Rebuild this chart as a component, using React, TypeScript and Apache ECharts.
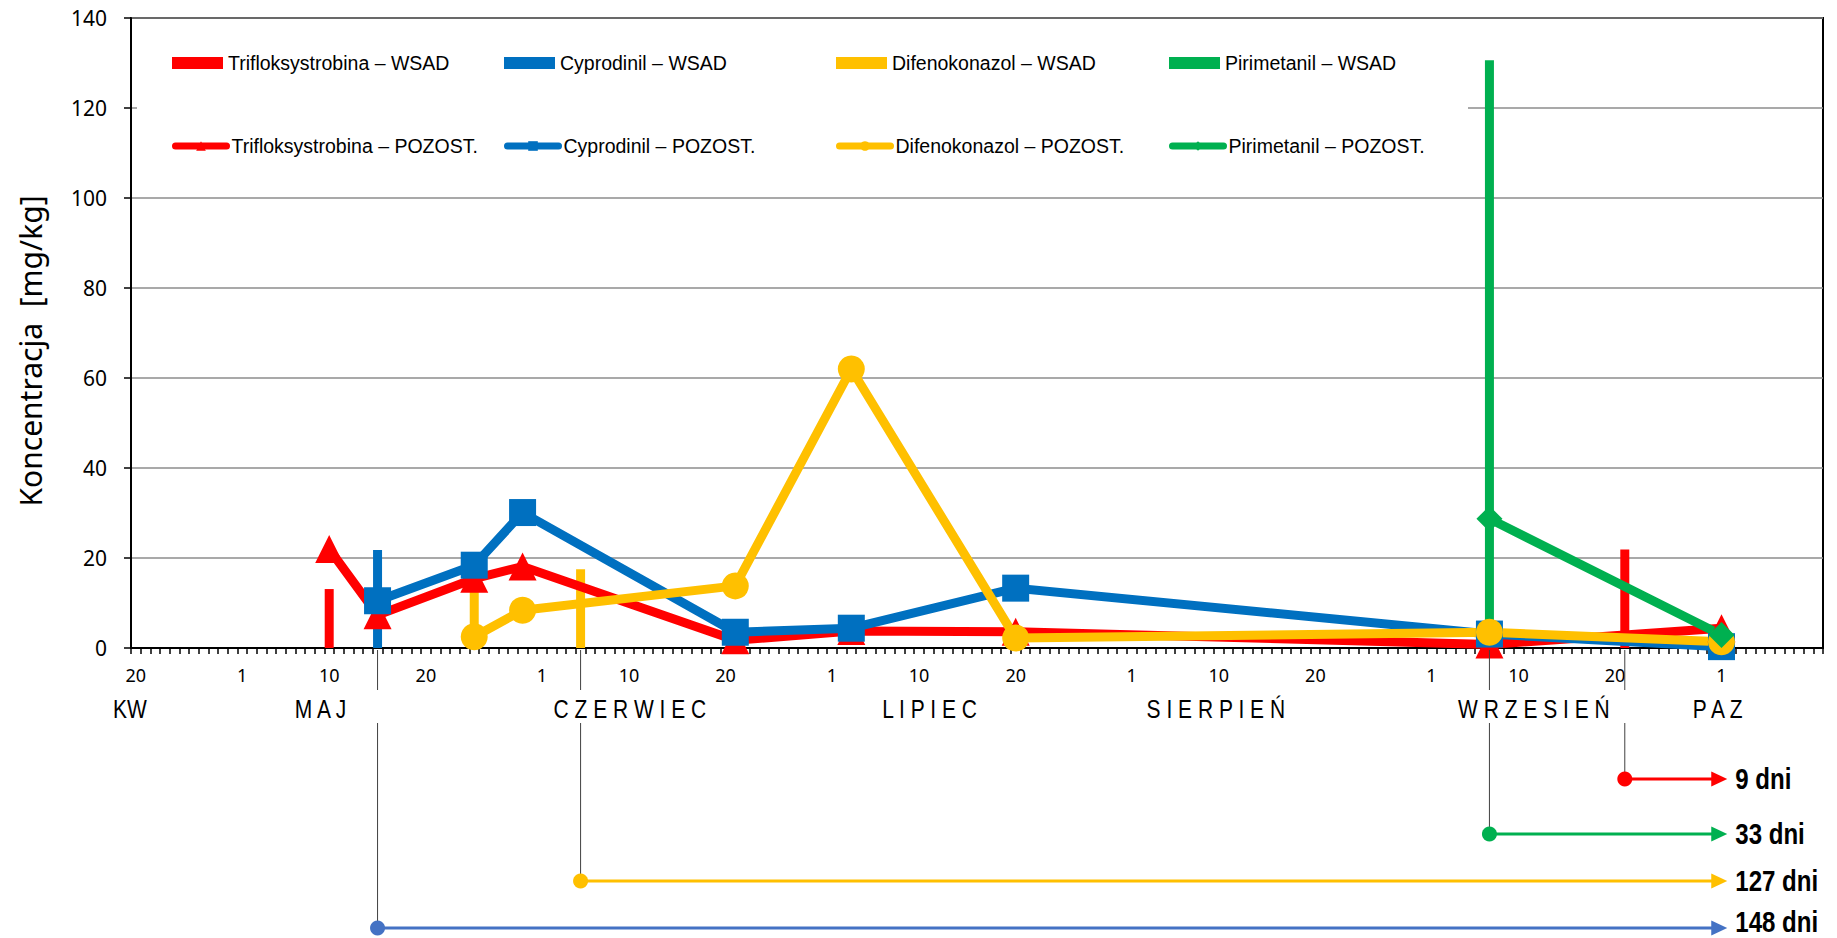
import React, { useEffect, useRef } from 'react';
import * as echarts from 'echarts';

// ---------- axis definition ----------
const AXIS_START = '04-20';
const AXIS_END = '10-11';
const LAST_DAY_LABEL = '10-01';
const DAY_TICK_LABELS = [1, 10, 20];
const MONTH_NAMES = ['KW', 'M A J', 'C Z E R W I E C', 'L I P I E C', 'S I E R P I E Ń', 'W R Z E S I E Ń', 'P A Z'];
const MONTH_NAME_DAYS = [109.4, 129.1, 161.1, 192.1, 221.7, 254.6, 273.6];
const Y_TITLE = 'Koncentracja  [mg/kg]';

// ---------- residues (POZOST.) ----------
const SAMPLE_DATES = ['05-10', '05-15', '05-25', '05-30', '06-21', '07-03', '07-20', '09-07', '10-01'];
const TRIFLO_POZOST = [22.0, 7.3, 15.4, 18.1, 1.7, 3.8, 3.6, 0.8, 4.4];
const CYPRO_POZOST = [null, 10.5, 18.4, 30.1, 3.5, 4.4, 13.3, 3.1, 0.3];
const DIFENO_POZOST = [null, null, 2.5, 8.4, 13.8, 62.0, 2.2, 3.5, 1.4];
const PIRI_POZOST = [null, null, null, null, null, null, null, 28.7, 2.9];

// ---------- applications (WSAD) ----------
const TRIFLO_WSAD_DATES = ['05-10', '09-21'];
const TRIFLO_WSAD = [13.1, 21.9];
const CYPRO_WSAD_DATES = ['05-15'];
const CYPRO_WSAD = [21.8];
const DIFENO_WSAD_DATES = ['05-25', '06-05'];
const DIFENO_WSAD = [15.0, 17.5];
const PIRI_WSAD_DATES = ['09-07'];
const PIRI_WSAD = [130.6];

// ---------- waiting periods ----------
const PHI_START = ['09-21', '09-07', '06-05', '05-15'];
const PHI_DAYS = [9, 33, 127, 148];
const PHI_COLORS = ['#FF0000', '#00B050', '#FFC000', '#4472C4'];
const ARROW_END_DAY = 274.6;

const RED = '#FF0000';
const BLUE = '#0070C0';
const YELLOW = '#FFC000';
const GREEN = '#00B050';

const MONTH_OFFSETS = [0, 31, 59, 90, 120, 151, 181, 212, 243, 273, 304, 334];
const doy = (md: string) => {
  const [m, d] = md.split('-').map(Number);
  return MONTH_OFFSETS[m - 1] + d;
};
const mdFromDoy = (n: number) => {
  let m = 11;
  while (MONTH_OFFSETS[m] >= n) m--;
  const d = n - MONTH_OFFSETS[m];
  return `${String(m + 1).padStart(2, '0')}-${String(d).padStart(2, '0')}`;
};

const CATS: string[] = [];
for (let n = doy(AXIS_START); n <= doy(AXIS_END); n++) CATS.push(mdFromDoy(n));

const SANS = "'Liberation Sans', Arial, sans-serif";
const NOTO = "'Noto Sans', sans-serif";

const pts = (dates: string[], vals: (number | null)[]) =>
  dates.map((d, i) => (vals[i] == null ? null : [doy(d), vals[i]])).filter((p) => p !== null);

const NAMES = {
  tw: 'Trifloksystrobina – WSAD',
  cw: 'Cyprodinil – WSAD',
  dw: 'Difenokonazol – WSAD',
  pw: 'Pirimetanil – WSAD',
  tp: 'Trifloksystrobina – POZOST.',
  cp: 'Cyprodinil – POZOST.',
  dp: 'Difenokonazol – POZOST.',
  pp: 'Pirimetanil – POZOST.',
};

const barSeries = (name: string, dates: string[], vals: number[], color: string) => ({
  type: 'bar',
  name,
  xAxisIndex: 0,
  yAxisIndex: 0,
  data: pts(dates, vals),
  barWidth: 9,
  barGap: '-100%',
  itemStyle: { color },
  z: 2,
});

const lineSeries = (name: string, vals: (number | null)[], color: string, symbol: string, size: number) => ({
  type: 'line',
  name,
  xAxisIndex: 0,
  yAxisIndex: 0,
  data: pts(SAMPLE_DATES, vals),
  symbol,
  symbolSize: size,
  showAllSymbol: true,
  lineStyle: { color, width: 9, join: 'round', cap: 'round' },
  itemStyle: { color },
  z: 3,
});

const LEGEND_COLS = [172, 504, 836, 1169];
const legendItem = (name: string, col: number, row: number, bar: boolean) => ({
  data: [name],
  left: LEGEND_COLS[col],
  top: row === 0 ? 51 : 134,
  padding: 0,
  itemGap: 0,
  itemWidth: 51,
  itemHeight: 12,
  icon: bar ? 'rect' : undefined,
  selectedMode: false,
  lineStyle: bar ? undefined : { width: 7, cap: 'round' },
  textStyle: { fontFamily: SANS, fontSize: 19.5, color: '#000', lineHeight: 24 },
});

export default function App() {
  const ref = useRef<HTMLDivElement>(null);

  useEffect(() => {
    document.body.style.margin = '0';
    document.body.style.overflow = 'hidden';
    if (!ref.current) return;
    const chart = echarts.init(ref.current, undefined, { renderer: 'svg' });

    const lastLabel = doy(LAST_DAY_LABEL);
    const option: any = {
      animation: false,
      backgroundColor: '#fff',
      grid: {
        left: 131,
        right: 14,
        top: 18,
        bottom: 290,
        show: true,
        borderColor: '#000',
        borderWidth: 2,
        backgroundColor: 'transparent',
        containLabel: false,
        outerBoundsMode: 'none',
      },
      xAxis: [
        { type: 'value', min: 109.5, max: 284.5, show: false, position: 'bottom' },
        {
          type: 'category',
          data: CATS,
          position: 'bottom',
          boundaryGap: true,
          axisLine: { show: true, onZero: false, lineStyle: { color: '#000', width: 2 } },
          axisTick: { show: true, interval: 0, length: 6, lineStyle: { color: '#000', width: 1.5 } },
          axisLabel: {
            interval: 0,
            margin: 18,
            fontFamily: NOTO,
            fontSize: 18,
            color: '#000',
            formatter: (v: string) => {
              const dd = Number(v.split('-')[1]);
              return DAY_TICK_LABELS.includes(dd) && doy(v) <= lastLabel ? String(dd) : '';
            },
          },
          splitLine: { show: false },
        },
      ],
      yAxis: {
        type: 'value',
        min: 0,
        max: 140,
        interval: 20,
        axisLine: { show: true, lineStyle: { color: '#000', width: 2 } },
        axisTick: { show: true, length: 7, lineStyle: { color: '#000', width: 1.5 } },
        axisLabel: { fontFamily: NOTO, fontSize: 21, color: '#000', margin: 24 },
        splitLine: { show: true, lineStyle: { color: '#8c8c8c', width: 1.5 } },
      },
      legend: [
        legendItem(NAMES.tw, 0, 0, true),
        legendItem(NAMES.cw, 1, 0, true),
        legendItem(NAMES.dw, 2, 0, true),
        legendItem(NAMES.pw, 3, 0, true),
        legendItem(NAMES.tp, 0, 1, false),
        legendItem(NAMES.cp, 1, 1, false),
        legendItem(NAMES.dp, 2, 1, false),
        legendItem(NAMES.pp, 3, 1, false),
      ],
      series: [
        barSeries(NAMES.tw, TRIFLO_WSAD_DATES, TRIFLO_WSAD, RED),
        barSeries(NAMES.cw, CYPRO_WSAD_DATES, CYPRO_WSAD, BLUE),
        barSeries(NAMES.dw, DIFENO_WSAD_DATES, DIFENO_WSAD, YELLOW),
        barSeries(NAMES.pw, PIRI_WSAD_DATES, PIRI_WSAD, GREEN),
        lineSeries(NAMES.tp, TRIFLO_POZOST, RED, 'triangle', 28),
        lineSeries(NAMES.cp, CYPRO_POZOST, BLUE, 'rect', 27),
        lineSeries(NAMES.dp, DIFENO_POZOST, YELLOW, 'circle', 27),
        lineSeries(NAMES.pp, PIRI_POZOST, GREEN, 'diamond', 26),
      ],
    };
    chart.setOption(option);

    const xPx = (d: number) => chart.convertToPixel({ xAxisIndex: 0 } as any, d) as unknown as number;
    const y0 = chart.convertToPixel({ yAxisIndex: 0 } as any, 0) as unknown as number;
    const yMid = chart.convertToPixel({ yAxisIndex: 0 } as any, 70) as unknown as number;
    const tipX = xPx(ARROW_END_DAY);
    const ARROW_DY = [131, 186, 233, 280];
    const TEXT_DY = [0, 0, 0, -6];

    const g: any[] = [];
    g.push({
      type: 'rect',
      z: 1,
      silent: true,
      shape: { x: 137, y: 21, width: 1331, height: 150 },
      style: { fill: '#fff' },
    });
    // y-axis title
    g.push({
      type: 'text',
      x: 30,
      y: yMid + 18,
      rotation: Math.PI / 2,
      z: 10,
      style: {
        text: Y_TITLE,
        fontSize: 30,
        fontFamily: NOTO,
        fill: '#000',
        align: 'center',
        verticalAlign: 'middle',
        textAlign: 'center',
        textVerticalAlign: 'middle',
      },
    });
    MONTH_NAMES.forEach((m, i) => {
      g.push({
        type: 'text',
        x: xPx(MONTH_NAME_DAYS[i]),
        y: y0 + 61,
        scaleX: 0.84,
        z: 10,
        style: {
          text: m,
          fontSize: 25,
          fontFamily: SANS,
          fill: '#000',
          align: 'center',
          verticalAlign: 'middle',
          textAlign: 'center',
          textVerticalAlign: 'middle',
        },
      });
    });
    PHI_START.forEach((s, i) => {
      const x = xPx(doy(s));
      const y = y0 + ARROW_DY[i];
      const c = PHI_COLORS[i];
      g.push({ type: 'line', z: 10, shape: { x1: x, y1: y0 + 2, x2: x, y2: y0 + 42 }, style: { stroke: '#404040', lineWidth: 1 } });
      g.push({ type: 'line', z: 10, shape: { x1: x, y1: y0 + 75, x2: x, y2: y }, style: { stroke: '#404040', lineWidth: 1 } });
      g.push({ type: 'line', z: 10, shape: { x1: x, y1: y, x2: tipX - 12, y2: y }, style: { stroke: c, lineWidth: 3 } });
      g.push({ type: 'circle', z: 11, shape: { cx: x, cy: y, r: 7.5 }, style: { fill: c } });
      g.push({
        type: 'polygon',
        z: 11,
        shape: { points: [[tipX - 16, y - 7.5], [tipX, y], [tipX - 16, y + 7.5]] },
        style: { fill: c },
      });
      g.push({
        type: 'text',
        z: 11,
        x: tipX + 8,
        y: y + TEXT_DY[i],
        scaleX: 0.83,
        style: {
          text: `${PHI_DAYS[i]} dni`,
          fontSize: 29,
          fontWeight: 'bold',
          fontFamily: SANS,
          fill: '#000',
          align: 'left',
          verticalAlign: 'middle',
          textAlign: 'left',
          textVerticalAlign: 'middle',
        },
      });
    });
    chart.setOption({ graphic: g });

    return () => chart.dispose();
  }, []);

  return <div ref={ref} style={{ width: 1837, height: 938 }} />;
}
